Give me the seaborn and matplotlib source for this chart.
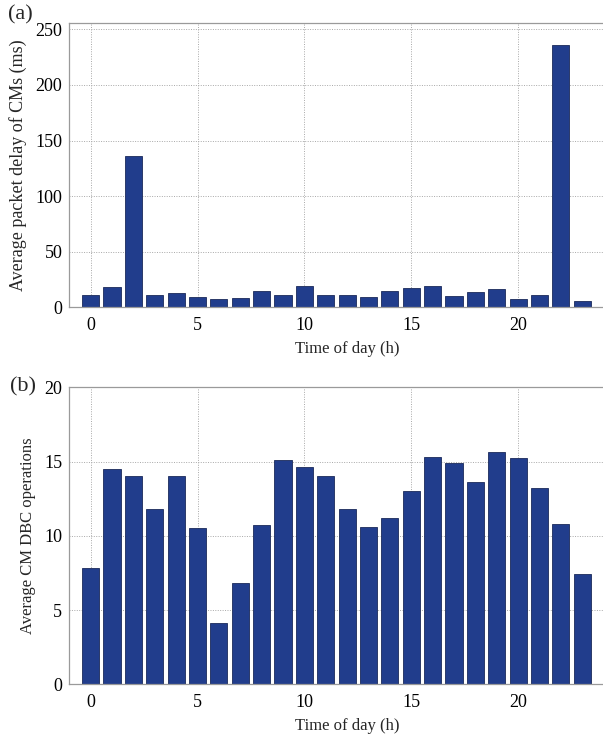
import numpy as np
import pandas as pd
import matplotlib
matplotlib.use("Agg")
import matplotlib.pyplot as plt
import seaborn as sns

hours = list(range(24))
delay_ms = [10.8, 18.6, 136, 10.8, 12.9, 9.6, 7.2, 8.1, 15.0, 11.4, 19.2, 11.4,
            10.8, 9.0, 15.0, 17.7, 19.2, 9.9, 13.5, 16.2, 7.5, 10.8, 236, 6.0]
dbc_ops = [7.8, 14.5, 14.0, 11.8, 14.0, 10.5, 4.1, 6.8, 10.7, 15.1, 14.6, 14.0,
           11.8, 10.6, 11.2, 13.0, 15.3, 14.9, 13.6, 15.65, 15.25, 13.25, 10.8, 7.45]
xticks = [0, 5, 10, 15, 20]
yticks_a = [0, 50, 100, 150, 200, 250]
yticks_b = [0, 5, 10, 15, 20]

sns.set_theme(style="white")
plt.rcParams['font.family'] = ['Liberation Serif', 'DejaVu Serif']

W, H = 603, 740
fig = plt.figure(figsize=(W / 100, H / 100), dpi=100)

def px_axes(left, top, right, bottom):
    return fig.add_axes([left / W, 1 - bottom / H, (right - left) / W, (bottom - top) / H])

bar_color = "#213d8c"
edge_color = "#1a2a5a"

def style(ax, ylim, yticks, ylabel, ylabel_size):
    ax.set_xlim(-1, 25)
    ax.set_ylim(*ylim)
    ax.set_xticks(xticks)
    ax.set_xticklabels([str(t) for t in xticks])
    ax.set_yticks(yticks)
    ax.set_yticklabels([str(t) for t in yticks])
    ax.set_axisbelow(True)
    ax.grid(True, linestyle=(0, (1, 1.5)), color="#a8a8a8", linewidth=0.7)
    for s in ax.spines.values():
        s.set_color("#9a9a9a")
        s.set_linewidth(0.9)
    ax.tick_params(axis="both", length=0, labelsize=13, colors="black", pad=5)
    ax.tick_params(axis="x", pad=7)
    ax.set_xlabel("Time of day (h)", fontsize=12, labelpad=5)
    ax.set_ylabel(ylabel, fontsize=ylabel_size, labelpad=6)

df_a = pd.DataFrame({"hour": hours, "delay": delay_ms})
df_b = pd.DataFrame({"hour": hours, "ops": dbc_ops})

ax1 = px_axes(69.3, 22.7, 625, 307.3)
sns.barplot(data=df_a, x="hour", y="delay", native_scale=True, width=0.8,
            color=bar_color, saturation=1, edgecolor=edge_color, linewidth=0.6, ax=ax1)
style(ax1, (0, 256), yticks_a, "Average packet delay of CMs (ms)", 13)

ax2 = px_axes(69.3, 387.3, 625, 684.3)
sns.barplot(data=df_b, x="hour", y="ops", native_scale=True, width=0.8,
            color=bar_color, saturation=1, edgecolor=edge_color, linewidth=0.6, ax=ax2)
style(ax2, (0, 20), yticks_b, "Average CM DBC operations", 12)

fig.text(20 / W, 1 - 15 / H, "(a)", fontsize=16, ha="center", va="center")
fig.text(23 / W, 1 - 387 / H, "(b)", fontsize=16, ha="center", va="center")

fig.savefig("out.png", dpi=100)
